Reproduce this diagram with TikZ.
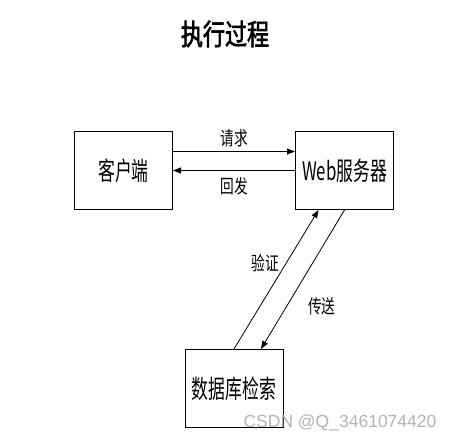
\documentclass[tikz,border=0pt]{standalone}
\usepackage{fontspec}
\setsansfont{Liberation Sans}
\newfontfamily\cjk[FakeStretch=0.66]{Noto Sans CJK SC}
\newfontfamily\cjklbl[FakeStretch=0.72]{Noto Sans CJK SC}
\newfontfamily\cjktitle[FakeStretch=0.76, FakeBold=2]{Noto Sans CJK SC}
\usetikzlibrary{arrows.meta, positioning}
\definecolor{cgrey}{HTML}{B4B4B4}
\tikzset{
  every picture/.style={line width=1pt, x=1pt, y=-1pt},
  box/.style={draw, minimum width=98pt, minimum height=78pt, inner sep=0pt, font=\cjk\fontsize{25.5}{25.5}\selectfont},
  arrow/.style={-{Triangle[length=8pt, width=6pt]}, line width=0.8pt},
  lbl/.style={font=\cjklbl\fontsize{19}{19}\selectfont, inner sep=2pt},
  title/.style={font=\cjktitle\fontsize{29}{29}\selectfont},
  note/.style={font=\sffamily\fontsize{17.5}{17.5}\selectfont, text=cgrey},
}
\begin{document}
\begin{tikzpicture}
  \useasboundingbox (0,0) rectangle (453,442);
  \node[title] (t) at (225,34) {执行过程};
  \node[box] (client) at (123.5,170.5) {客户端};
  \node[box, right=122pt of client] (web) {Web服务器};
  \node[box] (db) at (234,388.5) {数据库检索};
  % client <-> web
  \draw[arrow] ([yshift=19pt]client.east) -- node[lbl, above=2pt]{请求} ([yshift=19pt]client.east -| web.west);
  \draw[arrow] (web.west) -- node[lbl, below=5pt]{回发} (web.west -| client.east);
  % web <-> db
  \draw[arrow] (db.north) -- node[lbl, pos=0.62, left=5pt]{验证} ([xshift=-26pt]web.south);
  \draw[arrow] (web.south) -- node[lbl, pos=0.69, right=19pt]{传送} ([xshift=27pt]db.north);
  \node[note] (wm) at (340,423) {CSDN @Q\_3461074420};
\end{tikzpicture}
\end{document}
